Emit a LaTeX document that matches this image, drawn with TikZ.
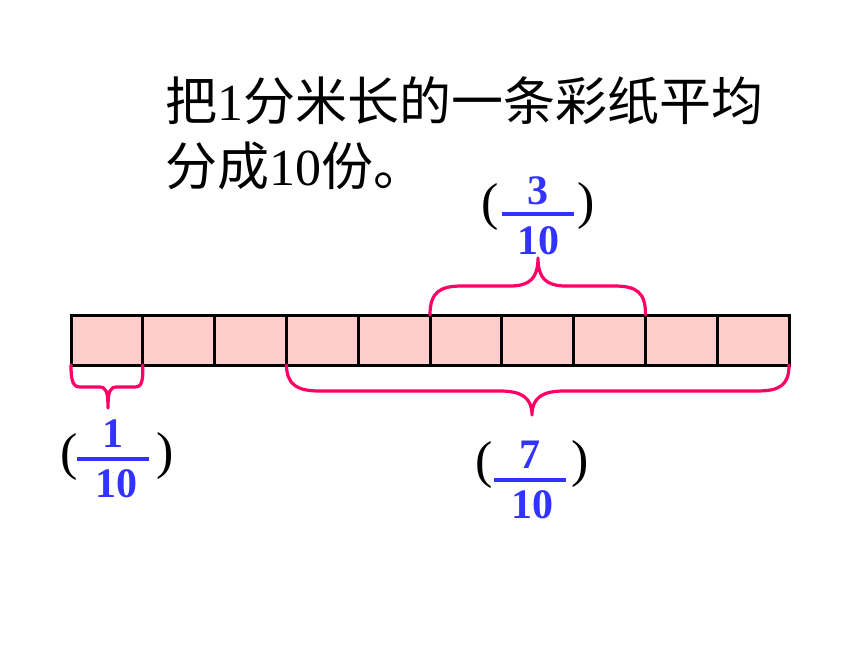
\documentclass[tikz,border=0pt]{standalone}
\usepackage{fontspec}
\setmainfont{Liberation Serif}
\newfontfamily\cjk{Noto Sans CJK SC}
\definecolor{cellpink}{HTML}{FFCCCC}
\definecolor{bracered}{HTML}{FF0066}
\definecolor{fracblue}{HTML}{3333FF}
\begin{document}
\begin{tikzpicture}[x=1pt,y=-1pt,
  cell/.style={draw=black, line width=3pt, fill=cellpink, minimum width=71.8pt, minimum height=50pt, inner sep=0pt, outer sep=0pt},
  title/.style={anchor=base west, inner sep=0pt, font=\fontsize{52}{62}\selectfont},
  num/.style={anchor=base, inner sep=0pt, text=fracblue, font=\fontsize{42}{42}\selectfont\bfseries},
  fracbar/.style={fill=fracblue, inner sep=0pt, minimum width=72pt, minimum height=3.2pt},
  paren/.style={inner sep=0pt, text=black, font=\fontsize{52}{52}\selectfont},
  brace/.style={draw=bracered, line width=3.2pt, line cap=round, line join=round}]
\useasboundingbox (0,0) rectangle (860,645);
\fill[white] (0,0) rectangle (860,645);

% title
\node[title] (t1) at (165,120) {{\cjk 把}1{\cjk 分米长的一条彩纸平均}};
\node[title] (t2) at (165,185) {{\cjk 分成}10{\cjk 份。}};

% strip
\foreach \i in {1,...,10}{
  \node[cell] (c\i) at ({71+71.8*(\i-0.5)},340) {};
}

% top brace (3/10)
\draw[brace] (c6.north west) .. controls (430,292) and (440,286) .. (462,286) -- (510,286)
  .. controls (530,286) and (538,278) .. (538,258)
  .. controls (538,278) and (546,286) .. (566,286) -- (614,286)
  .. controls (636,286) and (646,292) .. (c8.north east);

% bottom left brace (1/10)
\draw[brace] (c1.south west) .. controls (71,381) and (73,387) .. (80,387) -- (99,387)
  .. controls (106,387) and (108,391) .. (108,408)
  .. controls (108,391) and (110,387) .. (117,387) -- (135,387)
  .. controls (142,387) and (143,381) .. (c1.south east);

% bottom right brace (7/10)
\draw[brace] (c4.south west) .. controls (287,385) and (297,391) .. (320,391) -- (500,391)
  .. controls (522,391) and (532,398) .. (532,415)
  .. controls (532,398) and (542,391) .. (564,391) -- (757,391)
  .. controls (780,391) and (789,385) .. (c10.south east);

% fraction 3/10
\node[num] (n3) at (538,204) {3};
\node[fracbar] (b3) at (538,214) {};
\node[num] (d3) at (538,254) {10};
\node[paren] (l3) at (490,207) {(};
\node[paren] (r3) at (586,206) {)};

% fraction 1/10
\node[num] (n1) at (113,447) {1};
\node[fracbar] (b1) at (113,459) {};
\node[num] (d1) at (116,497) {10};
\node[paren] (l1) at (69,457) {(};
\node[paren] (r1) at (165,456) {)};

% fraction 7/10
\node[num] (n7) at (530,468) {7};
\node[fracbar] (b7) at (530,480) {};
\node[num] (d7) at (532,518) {10};
\node[paren] (l7) at (484,465) {(};
\node[paren] (r7) at (580,464) {)};
\end{tikzpicture}
\end{document}
